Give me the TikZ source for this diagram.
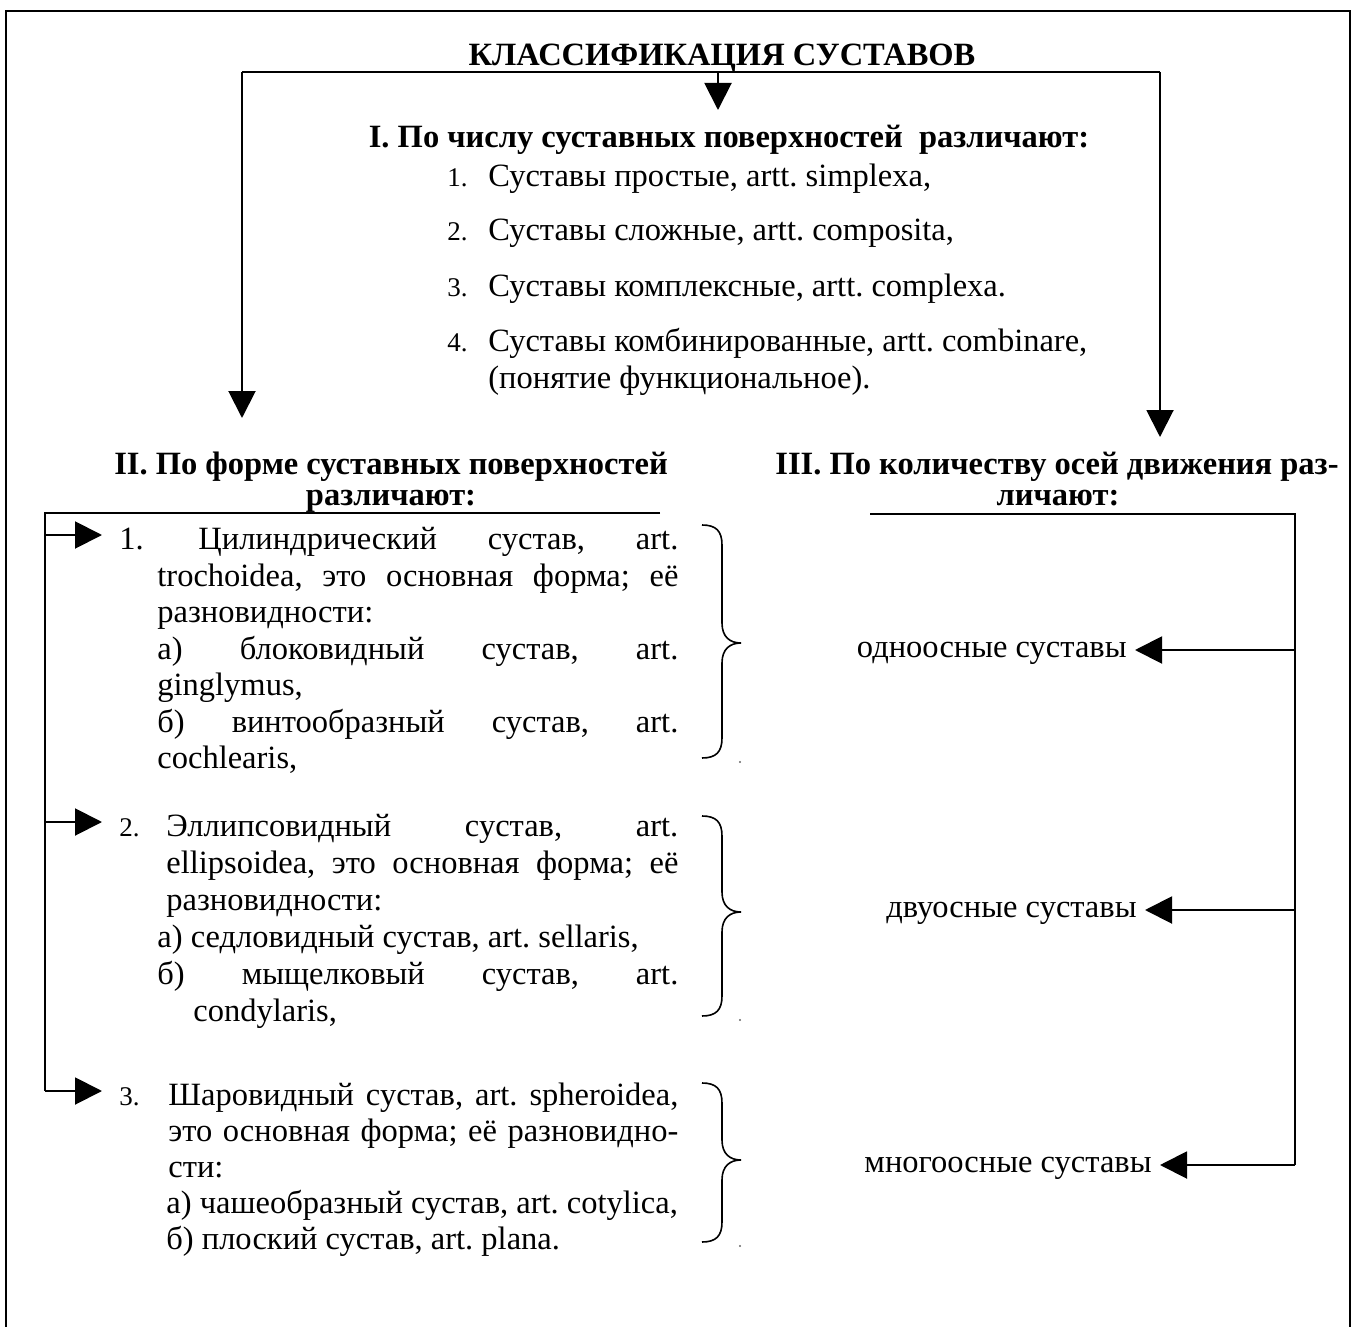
\documentclass[tikz,border=0pt]{standalone}
\usepackage{fontspec}
\setmainfont{Liberation Serif}
\usetikzlibrary{arrows.meta}
\frenchspacing
\newcommand\JustLine[2]{\makebox[#1][s]{#2}}
\tikzset{
  txt/.style={inner sep=0pt, anchor=base west, font=\fontsize{16.25pt}{18.5pt}\selectfont\frenchspacing},
  txtr/.style={inner sep=0pt, anchor=base east, font=\fontsize{16.25pt}{18.5pt}\selectfont\frenchspacing},
  num/.style={inner sep=0pt, anchor=base west, font=\fontsize{13.5pt}{16pt}\selectfont},
  head/.style={inner sep=0pt, anchor=base, font=\fontsize{16.25pt}{18.5pt}\selectfont\bfseries\frenchspacing},
  conn/.style={line width=1pt},
  arr/.style={line width=1pt, -{Triangle[length=13.5pt,width=13.5pt]}},
  bracestyle/.style={line width=0.8pt},
  frame/.style={line width=1.3pt},
}
\begin{document}
\begin{tikzpicture}[x=0.5pt,y=-0.5pt]
\useasboundingbox (0,0) rectangle (1356,1327);
\clip (0,0) rectangle (1356,1327);
% outer frame (bottom edge outside the page)
\draw[frame] (6,1340) -- (6,11) -- (1350,11) -- (1350,1340);

% title and top connectors
\node[head] (title) at (722,66) {КЛАССИФИКАЦИЯ СУСТАВОВ};
\coordinate (jl) at (242,72);
\coordinate (jc) at (718,72);
\coordinate (jr) at (1160,72);
\coordinate (tipI) at (718,110);
\coordinate (tipII) at (242,418);
\coordinate (tipIII) at (1160,437);
\draw[conn] (jl) -- (jr);
\draw[arr] (jc) -- (tipI);
\draw[arr] (jl) -- (tipII);
\draw[arr] (jr) -- (tipIII);

% section I
\node[head] (hI) at (729,148) {I. По числу суставных поверхностей\ \ различают:};
\node[num] (n1) at (447,186) {1.};
\node[txt] (i1) at (488,186) {Суставы простые, artt. simplexa,};
\node[num] (n2) at (447,241) {2.};
\node[txt] (i2) at (488,241) {Суставы сложные, artt. composita,};
\node[num] (n3) at (447,296) {3.};
\node[txt] (i3) at (488,296) {Суставы комплексные, artt. complexa.};
\node[num] (n4) at (447,351) {4.};
\node[txt] (i4) at (488,351) {Суставы комбинированные, artt. combinare,};
\node[txt] (i4b) at (488,388) {(понятие функциональное).};

% section II heading
\node[head] (hII) at (391,474) {II. По форме суставных поверхностей};
\node[head] (hIIb) at (391,505) {различают:};
% section III heading
\node[head] (hIII) at (1057,474) {III. По количеству осей движения раз-};
\node[head] (hIIIb) at (1058,505) {личают:};

% left connector
\coordinate (L0) at (45,513);
\coordinate (L0r) at (660,513);
\coordinate (L1) at (45,535);
\coordinate (L2) at (45,822);
\coordinate (L3) at (45,1091);
\coordinate (T1) at (102,535);
\coordinate (T2) at (102,822);
\coordinate (T3) at (102,1091);
\draw[conn] (L0r) -- (L0) -- (L3);
\draw[arr] (L1) -- (T1);
\draw[arr] (L2) -- (T2);
\draw[arr] (L3) -- (T3);

% block 1
\node[txt] (b1n) at (119,549) {1.};
\node[txt] (b1l1) at (198,549) {\JustLine{240pt}{Цилиндрический сустав, art.}};
\node[txt] (b1l2) at (157,586) {\JustLine{260.5pt}{trochoidea, это основная форма; её}};
\node[txt] (b1l3) at (157,622) {разновидности:};
\node[txt] (b1l4) at (157,659) {\JustLine{260.5pt}{а) блоковидный сустав, art.}};
\node[txt] (b1l5) at (157,695) {ginglymus,};
\node[txt] (b1l6) at (157,732) {\JustLine{260.5pt}{б) винтообразный сустав, art.}};
\node[txt] (b1l7) at (157,768) {cochlearis,};

% block 2
\node[num] (b2n) at (119,836) {2.};
\node[txt] (b2l1) at (166,836) {\JustLine{256pt}{Эллипсовидный сустав, art.}};
\node[txt] (b2l2) at (166,873) {\JustLine{256pt}{ellipsoidea, это основная форма; её}};
\node[txt] (b2l3) at (166,910) {разновидности:};
\node[txt] (b2l4) at (157,947) {а) седловидный сустав, art. sellaris,};
\node[txt] (b2l5) at (157,984) {\JustLine{260.5pt}{б) мыщелковый сустав, art.}};
\node[txt] (b2l6) at (193,1021) {condylaris,};

% block 3
\node[num] (b3n) at (119,1105) {3.};
\node[txt] (b3l1) at (168,1105) {\JustLine{255pt}{Шаровидный сустав, art. spheroidea,}};
\node[txt] (b3l2) at (168,1141) {\JustLine{255pt}{это основная форма; её разновидно-}};
\node[txt] (b3l3) at (168,1177) {сти:};
\node[txt] (b3l4) at (166,1213) {а) чашеобразный сустав, art. cotylica,};
\node[txt] (b3l5) at (166,1249) {б) плоский сустав, art. plana.};

% braces
\foreach \t/\m/\b in {525/643/758, 816/912/1016, 1083/1160/1242}{
  \draw[bracestyle] (702,\t) .. controls (716,\t) and (722,\t+6) .. (722,\t+20)
    -- (722,\m-20) .. controls (722,\m-6) and (730,\m) .. (741,\m)
    .. controls (730,\m) and (722,\m+6) .. (722,\m+20)
    -- (722,\b-20) .. controls (722,\b-6) and (716,\b) .. (702,\b);
  \fill[black!60] (740,\b+4) circle (1.2);
}

% right connector
\coordinate (R0) at (870,514);
\coordinate (Rc) at (1295,514);
\coordinate (R1) at (1295,650);
\coordinate (R2) at (1295,910);
\coordinate (R3) at (1295,1165);
\coordinate (S1) at (1135,650);
\coordinate (S2) at (1145,910);
\coordinate (S3) at (1160,1165);
\draw[conn] (R0) -- (Rc) -- (R3);
\draw[arr] (R1) -- (S1);
\draw[arr] (R2) -- (S2);
\draw[arr] (R3) -- (S3);
\node[txtr] (ax1) at (1127,657) {одноосные суставы};
\node[txtr] (ax2) at (1137,917) {двуосные суставы};
\node[txtr] (ax3) at (1152,1172) {многоосные суставы};
\end{tikzpicture}
\end{document}
